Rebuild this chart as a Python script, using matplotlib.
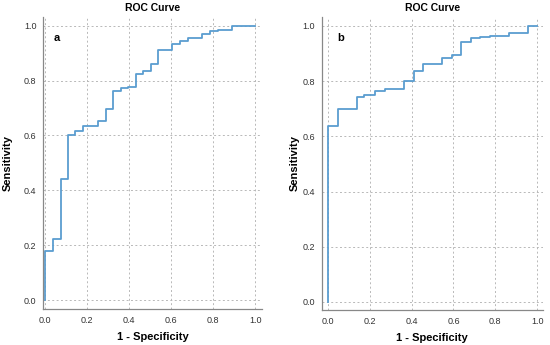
import matplotlib
matplotlib.use("Agg")
import matplotlib.pyplot as plt

plt.rcParams['font.family'] = ['Liberation Sans', 'DejaVu Sans']

# Panel a: ROC step vertices (1 - specificity, sensitivity)
fpr_a = [0, 0.035, 0.073, 0.11, 0.141, 0.181, 0.252, 0.289, 0.322, 0.359, 0.395, 0.43,
         0.467, 0.502, 0.538, 0.606, 0.644, 0.681, 0.749, 0.786, 0.821, 0.892, 1.0]
tpr_a = [0, 0.178, 0.223, 0.442, 0.6, 0.617, 0.634, 0.652, 0.697, 0.761, 0.772, 0.778,
         0.823, 0.835, 0.859, 0.91, 0.933, 0.944, 0.956, 0.968, 0.979, 0.985, 1.0]

# Panel b
fpr_b = [0, 0.048, 0.137, 0.172, 0.227, 0.273, 0.366, 0.41, 0.456, 0.547, 0.593, 0.638,
         0.684, 0.728, 0.774, 0.865, 0.955, 1.0]
tpr_b = [0, 0.639, 0.698, 0.741, 0.748, 0.766, 0.770, 0.802, 0.835, 0.862, 0.885, 0.895,
         0.942, 0.955, 0.96, 0.964, 0.973, 1.0]

ticks = [0.0, 0.2, 0.4, 0.6, 0.8, 1.0]
tick_labels = ["0.0", "0.2", "0.4", "0.6", "0.8", "1.0"]
panel_labels = ["a", "b"]
title = "ROC Curve"
xlabel = "1 - Specificity"
ylabel = "Sensitivity"

fig = plt.figure(figsize=(5.5, 3.45), dpi=100)
ax_a = fig.add_axes([0.079, 0.104, 0.397, 0.847])
ax_b = fig.add_axes([0.585, 0.101, 0.402, 0.851])

line_color = "#5a9dd0"
specs = [
    (ax_a, fpr_a, tpr_a, (-0.009, 1.032), (-0.033, 1.032), 8, 0.062),
    (ax_b, fpr_b, tpr_b, (-0.029, 1.027), (-0.030, 1.034), 2, 0.086),
]
for (ax, fx, ty, xl, yl, lp, lx), lab in zip(specs, panel_labels):
    ax.plot(fx, ty, drawstyle='steps-pre', color=line_color, lw=1.3)
    ax.set_xlim(*xl)
    ax.set_ylim(*yl)
    ax.set_xticks(ticks)
    ax.set_xticklabels(tick_labels)
    ax.set_yticks(ticks)
    ax.set_yticklabels(tick_labels)
    ax.tick_params(length=0, labelsize=6.5, colors="#333333", pad=5)
    ax.grid(True, linestyle=(0, (2, 2.5)), color="#b8b8b8", lw=0.7)
    for s in ["top", "right"]:
        ax.spines[s].set_visible(False)
    for s in ["left", "bottom"]:
        ax.spines[s].set_color("#888888")
        ax.spines[s].set_linewidth(0.9)
    ax.set_title(title, fontsize=7.5, fontweight='bold', pad=4)
    ax.set_xlabel(xlabel, fontsize=8, fontweight='bold', labelpad=5)
    ax.set_ylabel(ylabel, fontsize=8, fontweight='bold', labelpad=lp)
    ax.text(lx, 0.928, lab, transform=ax.transAxes, fontsize=8, fontweight='bold',
            va='center', ha='center')

fig.savefig("out.png", dpi=100)
